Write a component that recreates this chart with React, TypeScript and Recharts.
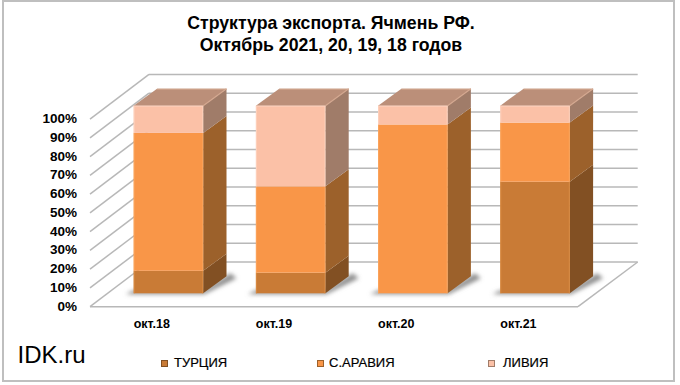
import React from "react";
import { BarChart, Bar, XAxis, YAxis, Legend, CartesianGrid } from "recharts";

const categories = ["окт.18", "окт.19", "окт.20", "окт.21"];
const turkey = [12, 11, 0, 59.5];
const saudi = [73.5, 46, 90, 31.5];
const libya = [14.5, 43, 10, 9];
const ticks = [0, 10, 20, 30, 40, 50, 60, 70, 80, 90, 100];

const rows = categories.map((name, i) => ({ name, t: turkey[i], s: saudi[i], l: libya[i] }));

const FONT = "'Liberation Sans', Arial, sans-serif";
const DX = 23.3;
const DY = 17;
const GRID = "#b8b8b8";

const palette = {
  t: { front: "#c97b36", side: "#825023", edge: "#d98a42" },
  s: { front: "#f99648", side: "#9c612b", edge: "#fba45c" },
  l: { front: "#fbc1a7", side: "#a07c69", edge: "#fdd0bb", top: "#bb8f79" },
};

const legendItems = [
  { label: "ТУРЦИЯ", key: "t", mx: 161, tx: 174 },
  { label: "С.АРАВИЯ", key: "s", mx: 317, tx: 329 },
  { label: "ЛИВИЯ", key: "l", mx: 488, tx: 503 },
];

function Segment(props: any) {
  const { x, y, width, height, k } = props;
  const c = (palette as any)[k];
  const r = x + width;
  const b = y + height;
  if (height <= 0.01 && k !== "t") return null;
  return (
    <g>
      {k === "t" && (
        <g filter="url(#shadowBlur)">
          <polygon
            points={`${x - 8},${b + 1} ${r + 1},${b + 1} ${r + DX + 10},${b - DY + 2} ${r + DX + 4},${b - DY - 3} ${r},${b - 3} ${x},${b - 3}`}
            fill="#8f8f8f"
          />
        </g>
      )}
      {height > 0.01 && (
        <g>
          <rect x={x} y={y} width={width} height={height} fill={c.front} />
          <polygon points={`${r},${y} ${r + DX},${y - DY} ${r + DX},${b - DY} ${r},${b}`} fill={c.side} />
          <line x1={x + 0.5} y1={y} x2={x + 0.5} y2={b} stroke={c.edge} strokeWidth={1} />
          <line x1={r - 0.5} y1={y} x2={r - 0.5} y2={b} stroke={c.edge} strokeWidth={1} />
        </g>
      )}
      {k === "l" && (
        <g>
          <polygon points={`${x},${y} ${x + DX},${y - DY} ${r + DX},${y - DY} ${r},${y}`} fill={c.top} />
          <line x1={r} y1={y} x2={r + DX} y2={y - DY} stroke="#d3a78f" strokeWidth={1.2} />
          <line x1={x + DX} y1={y - DY + 0.5} x2={r + DX} y2={y - DY + 0.5} stroke="#d3a78f" strokeWidth={1} />
          <line x1={x} y1={y + 0.5} x2={r} y2={y + 0.5} stroke={c.edge} strokeWidth={1} />
        </g>
      )}
    </g>
  );
}

function wallLine(p: any) {
  const y = p.y1;
  const frontY = y + 13.4;
  const backY = y - 31.3;
  const isFloor = y > 290;
  return (
    <g key={"wall-" + y}>
      <line x1={90} y1={frontY} x2={149} y2={backY} stroke={GRID} strokeWidth={1.5} />
      <line x1={149} y1={backY} x2={637.7} y2={backY} stroke={GRID} strokeWidth={1.5} />
      {isFloor && (
        <g>
          <line x1={90} y1={frontY} x2={578} y2={frontY} stroke={GRID} strokeWidth={1.5} />
          <line x1={578} y1={frontY} x2={637.7} y2={backY} stroke={GRID} strokeWidth={1.5} />
        </g>
      )}
    </g>
  );
}

function ValueTick(props: any) {
  const { y, payload } = props;
  return (
    <text x={77} y={y + 17.4} textAnchor="end" fontFamily={FONT} fontWeight="bold" fontSize={13.5} fill="#000">
      {payload.value}%
    </text>
  );
}

function CategoryTick(props: any) {
  const { x, payload } = props;
  return (
    <text x={x - 17} y={328} textAnchor="middle" fontFamily={FONT} fontWeight="bold" fontSize={12.5} fill="#000">
      {payload.value}
    </text>
  );
}

function LegendContent() {
  return (
    <div style={{ position: "relative", width: 680, height: 0, pointerEvents: "none" }}>
      {legendItems.map((item) => (
        <React.Fragment key={item.key}>
          <span
            style={{
              position: "absolute",
              left: item.mx,
              top: 360,
              width: 7,
              height: 7,
              background: (palette as any)[item.key].front,
              border: "0.5px solid " + (palette as any)[item.key].side,
              boxSizing: "border-box",
            }}
          />
          <span
            style={{
              position: "absolute",
              left: item.tx,
              top: 356,
              fontFamily: FONT,
              fontSize: 13,
              lineHeight: "14px",
              color: "#000",
              WebkitTextStroke: "0.2px #000",
              whiteSpace: "nowrap",
            }}
          >
            {item.label}
          </span>
        </React.Fragment>
      ))}
    </div>
  );
}

export default function App() {
  return (
    <div style={{ position: "absolute", left: 0, top: 0, width: 680, height: 385, background: "#fff" }}>
      <BarChart
        width={680}
        height={385}
        data={rows}
        margin={{ top: 105.7, right: 83.5, bottom: 0, left: 0 }}
        barCategoryGap={0}
        barSize={69.5}
        stackOffset="none"
      >
        <defs>
          <filter id="shadowBlur" x="-30%" y="-60%" width="160%" height="220%">
            <feGaussianBlur stdDeviation="2" />
          </filter>
        </defs>
        <rect x={3} y={1} width={671} height={380} fill="none" stroke="#bfbfbf" strokeWidth={2} />
        <text x={331} y={29} textAnchor="middle" fontFamily={FONT} fontWeight="bold" fontSize={17.7} fill="#000">
          Структура экспорта. Ячмень РФ.
        </text>
        <text x={331} y={51} textAnchor="middle" fontFamily={FONT} fontWeight="bold" fontSize={17.7} fill="#000">
          Октябрь 2021, 20, 19, 18 годов
        </text>
        <text x={17.5} y={362.5} fontFamily={FONT} fontSize={24} fill="#000">
          IDK.ru
        </text>
        <CartesianGrid vertical={false} horizontal={wallLine} horizontalValues={ticks} />
        <YAxis
          type="number"
          domain={[0, 100]}
          ticks={ticks}
          width={107.7}
          axisLine={false}
          tickLine={false}
          interval={0}
          tick={<ValueTick />}
        />
        <XAxis
          dataKey="name"
          height={91.7}
          axisLine={false}
          tickLine={false}
          interval={0}
          tick={<CategoryTick />}
        />
        <Bar dataKey="t" stackId="a" isAnimationActive={false} shape={<Segment k="t" />} />
        <Bar dataKey="s" stackId="a" isAnimationActive={false} shape={<Segment k="s" />} />
        <Bar dataKey="l" stackId="a" isAnimationActive={false} shape={<Segment k="l" />} />
        <Legend
          content={<LegendContent />}
          wrapperStyle={{ position: "absolute", left: 0, top: 0, bottom: "auto", width: 680, height: 0 }}
        />
      </BarChart>
    </div>
  );
}
